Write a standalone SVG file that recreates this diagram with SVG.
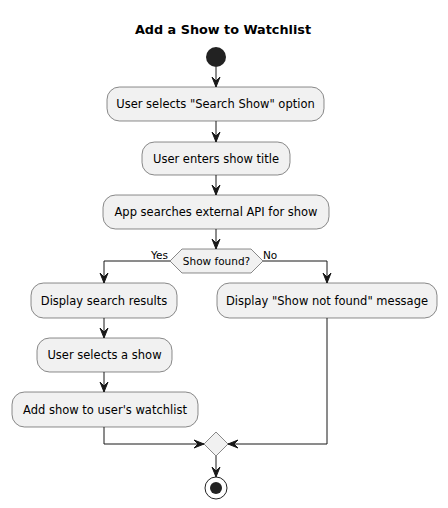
<svg xmlns="http://www.w3.org/2000/svg" width="448" height="508" viewBox="0 0 448 508">
<style>
.box{fill:#F1F1F1;stroke:#181818;stroke-width:0.5}
.t{font-family:"DejaVu Sans",Verdana,sans-serif;font-size:11.5px;fill:#000;text-anchor:middle}
.s{font-family:"DejaVu Sans",Verdana,sans-serif;font-size:10.5px;fill:#000}
.ln{fill:none;stroke:#181818;stroke-width:1}
.ah{fill:#181818;stroke:#181818;stroke-width:1}
</style>
<rect width="448" height="508" fill="#FFFFFF"/>
<text x="223" y="34" style="font-family:'DejaVu Sans',Verdana,sans-serif;font-size:12.8px;font-weight:bold;text-anchor:middle">Add a Show to Watchlist</text>
<g id="start"><circle cx="216" cy="57" r="10" fill="#222222"/></g>
<g id="n1"><rect class="box" x="107" y="87" width="217" height="34" rx="12.5"/><text class="t" x="215.5" y="108">User selects "Search Show" option</text></g>
<g id="n2"><rect class="box" x="142" y="142" width="148" height="33" rx="12.5"/><text class="t" x="216" y="163">User enters show title</text></g>
<g id="n3"><rect class="box" x="103" y="195" width="226" height="34" rx="12.5"/><text class="t" x="216" y="216">App searches external API for show</text></g>
<g id="d1"><polygon class="box" points="170,261 182,249 251,249 263,261 251,273 182,273"/><text class="t" x="216.5" y="265" style="font-size:10.5px">Show found?</text></g>
<g id="n4"><rect class="box" x="31" y="283" width="146" height="35" rx="12.5"/><text class="t" x="104" y="305">Display search results</text></g>
<g id="n5"><rect class="box" x="217" y="283" width="220" height="35" rx="12.5"/><text class="t" x="327" y="305">Display "Show not found" message</text></g>
<g id="n6"><rect class="box" x="37" y="338" width="135" height="34" rx="12.5"/><text class="t" x="104.5" y="359">User selects a show</text></g>
<g id="n7"><rect class="box" x="12" y="392" width="186" height="35" rx="12.5"/><text class="t" x="105" y="414">Add show to user's watchlist</text></g>
<g id="d2"><polygon class="box" points="216,432 228,444 216,456 204,444"/></g>
<g id="end"><circle cx="216" cy="488" r="11" fill="none" stroke="#222222" stroke-width="1"/><circle cx="216" cy="488" r="6" fill="#222222"/></g>
<g id="connectors">
<path class="ln" d="M216,67 V87"/><polygon class="ah" points="212,77 216,87 220,77 216,81"/>
<path class="ln" d="M216,121 V142"/><polygon class="ah" points="212,132 216,142 220,132 216,136"/>
<path class="ln" d="M216,175 V195"/><polygon class="ah" points="212,185 216,195 220,185 216,189"/>
<path class="ln" d="M216,229 V249"/><polygon class="ah" points="212,239 216,249 220,239 216,243"/>
<path class="ln" d="M170,261 H104 V283"/><polygon class="ah" points="100,273 104,283 108,273 104,277"/>
<path class="ln" d="M263,261 H327 V283"/><polygon class="ah" points="323,273 327,283 331,273 327,277"/>
<text class="s" x="151" y="259">Yes</text>
<text class="s" x="263" y="259">No</text>
<path class="ln" d="M104,318 V338"/><polygon class="ah" points="100,328 104,338 108,328 104,332"/>
<path class="ln" d="M104,372 V392"/><polygon class="ah" points="100,382 104,392 108,382 104,386"/>
<path class="ln" d="M104,427 V444 H204"/><polygon class="ah" points="194,440 204,444 194,448 198,444"/>
<path class="ln" d="M327,318 V444 H228"/><polygon class="ah" points="238,440 228,444 238,448 234,444"/>
<path class="ln" d="M216,456 V477"/><polygon class="ah" points="212,467 216,477 220,467 216,471"/>
</g>
</svg>
